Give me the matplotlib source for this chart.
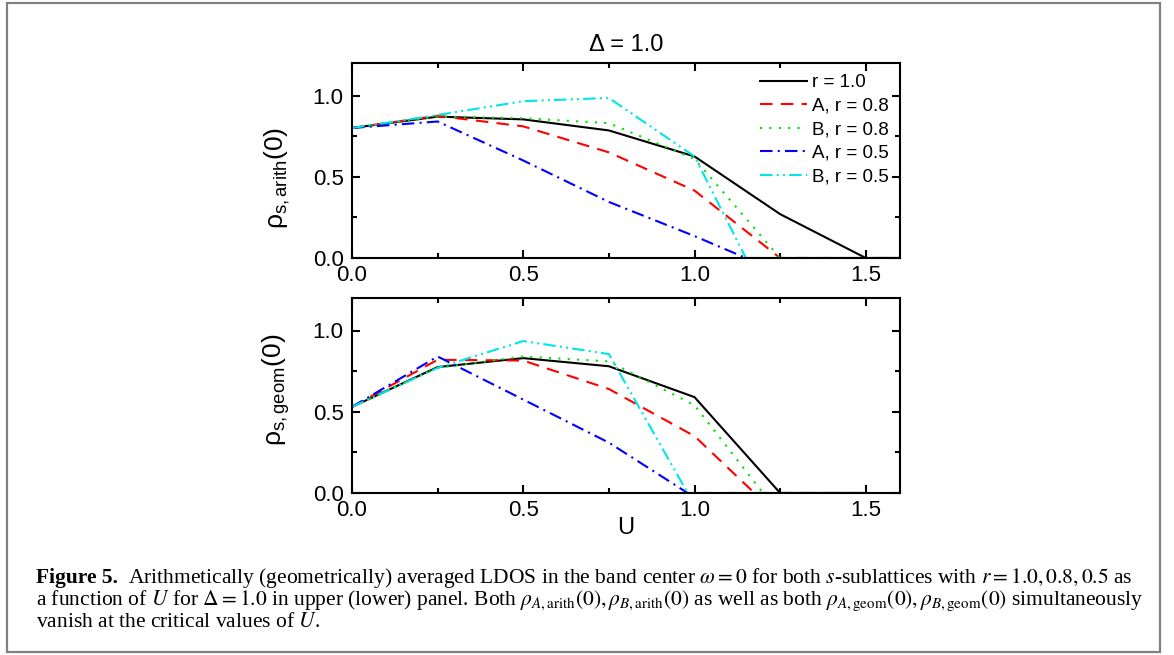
import numpy as np
import matplotlib
matplotlib.use("Agg")
from matplotlib import pyplot as plt
from matplotlib.patches import Rectangle
from matplotlib.ticker import MultipleLocator

plt.rcParams['font.family'] = ['Liberation Sans', 'DejaVu Sans']
plt.rcParams['mathtext.fontset'] = 'custom'
plt.rcParams['mathtext.rm'] = 'Liberation Sans'
plt.rcParams['mathtext.it'] = 'Liberation Sans:italic'

# upper panel: arithmetic average
u_arith_r10 = [0.0, 0.25, 0.5, 0.75, 1.0, 1.25, 1.5, 1.6]
arith_r10 = [0.80, 0.87, 0.853, 0.785, 0.625, 0.27, 0.0, 0.0]
u_arith_r08 = [0.0, 0.25, 0.5, 0.75, 1.0, 1.25, 1.6]
arith_A_r08 = [0.80, 0.875, 0.81, 0.65, 0.415, 0.0, 0.0]
arith_B_r08 = [0.80, 0.87, 0.86, 0.83, 0.61, 0.0, 0.0]
u_arith_r05 = [0.0, 0.25, 0.5, 0.75, 1.0, 1.15, 1.6]
arith_A_r05 = [0.80, 0.84, 0.60, 0.345, 0.135, 0.0, 0.0]
arith_B_r05 = [0.80, 0.88, 0.965, 0.985, 0.625, 0.0, 0.0]

# lower panel: geometric average
u_geom_r10 = [0.0, 0.25, 0.5, 0.75, 1.0, 1.25, 1.5]
geom_r10 = [0.53, 0.775, 0.83, 0.78, 0.59, 0.0, 0.0]
u_geom_A_r08 = [0.0, 0.25, 0.5, 0.75, 1.0, 1.175, 1.5]
geom_A_r08 = [0.53, 0.82, 0.815, 0.64, 0.35, 0.0, 0.0]
u_geom_B_r08 = [0.0, 0.25, 0.5, 0.75, 1.0, 1.2, 1.5]
geom_B_r08 = [0.53, 0.77, 0.84, 0.81, 0.54, 0.0, 0.0]
u_geom_r05 = [0.0, 0.25, 0.5, 0.75, 0.98, 1.5]
geom_A_r05 = [0.53, 0.84, 0.575, 0.31, 0.0, 0.0]
geom_B_r05 = [0.53, 0.77, 0.935, 0.855, 0.0, 0.0]

labels = ['r = 1.0', 'A, r = 0.8', 'B, r = 0.8', 'A, r = 0.5', 'B, r = 0.5']
colors = ['black', '#ff0000', '#00e000', '#0000ff', '#00e6e6']
styles = ['-', (0, (6, 4)), (0, (1, 3.5)), (0, (6, 2.5, 1, 2.5)), (0, (6, 2, 1, 2, 1, 2))]

W, H = 1174, 655
fig = plt.figure(figsize=(W / 100, H / 100), dpi=100)

def px(x0, y0, x1, y1):
    # pixel box (top-left origin) -> figure rect
    return [x0 / W, 1 - y1 / H, (x1 - x0) / W, (y1 - y0) / H]

ax1 = fig.add_axes(px(352, 63, 900, 258))
ax2 = fig.add_axes(px(352, 298, 900, 493))

top = [(u_arith_r10, arith_r10), (u_arith_r08, arith_A_r08), (u_arith_r08, arith_B_r08),
       (u_arith_r05, arith_A_r05), (u_arith_r05, arith_B_r05)]
bot = [(u_geom_r10, geom_r10), (u_geom_A_r08, geom_A_r08), (u_geom_B_r08, geom_B_r08),
       (u_geom_r05, geom_A_r05), (u_geom_r05, geom_B_r05)]

for ax, series in [(ax1, top), (ax2, bot)]:
    for (u, v), lab, c, ls in zip(series, labels, colors, styles):
        ax.plot(u, v, color=c, linestyle=ls, lw=1.5, label=lab)
    ax.set_xlim(0, 1.6)
    ax.set_ylim(0, 1.2)
    ax.xaxis.set_major_locator(MultipleLocator(0.5))
    ax.xaxis.set_minor_locator(MultipleLocator(0.25))
    ax.yaxis.set_major_locator(MultipleLocator(0.5))
    ax.yaxis.set_minor_locator(MultipleLocator(0.25))
    ax.tick_params(which='both', direction='in', top=True, right=True, width=1.5, labelsize=16)
    ax.tick_params(which='major', length=6)
    ax.tick_params(which='minor', length=3.5)
    ax.tick_params(axis='x', pad=5)
    ax.tick_params(axis='y', pad=6)
    for s in ax.spines.values():
        s.set_linewidth(1.5)

ax1.set_title('Δ = 1.0', fontsize=17, pad=9)
ax1.set_ylabel(r'$\mathrm{\rho_{s,arith}(0)}$', fontsize=19)
ax2.set_ylabel(r'$\mathrm{\rho_{s,geom}(0)}$', fontsize=19)
ax1.yaxis.set_label_coords(-0.11, 0.41)
ax2.yaxis.set_label_coords(-0.11, 0.53)
ax2.set_xlabel('U', fontsize=17, labelpad=-3)

leg = ax1.legend(loc='upper right', frameon=False, fontsize=13.5, handlelength=2.5,
                 handletextpad=0.25, labelspacing=0.34, borderaxespad=0.2)

# frame round the whole figure
fig.patches.append(Rectangle((7 / W, 3 / H), (1160 - 7) / W, (652 - 3) / H,
                             transform=fig.transFigure, fill=False,
                             edgecolor='#808080', lw=1.6))

# caption
cap_kw = dict(fontsize=15.5, family='Liberation Serif', math_fontfamily='stix',
              va='baseline', ha='left')
t0 = fig.text(36 / W, 1 - 583 / H, 'Figure 5.', fontweight='bold', **cap_kw)
fig.canvas.draw()
bb = t0.get_window_extent()
fig.text((bb.x1 + 10) / W, 1 - 583 / H,
         r'Arithmetically (geometrically) averaged LDOS in the band center $\omega = 0$ for both '
         r'$s$-sublattices with $r = 1.0, 0.8, 0.5$ as', **cap_kw)
fig.text(36 / W, 1 - 605 / H,
         r'a function of $U$ for $\Delta = 1.0$ in upper (lower) panel. Both '
         r'$\rho_{A,\mathrm{arith}}(0), \rho_{B,\mathrm{arith}}(0)$ as well as both '
         r'$\rho_{A,\mathrm{geom}}(0), \rho_{B,\mathrm{geom}}(0)$ simultaneously', **cap_kw)
fig.text(36 / W, 1 - 627 / H, r'vanish at the critical values of $U$.', **cap_kw)

fig.savefig('out.png', dpi=100)
